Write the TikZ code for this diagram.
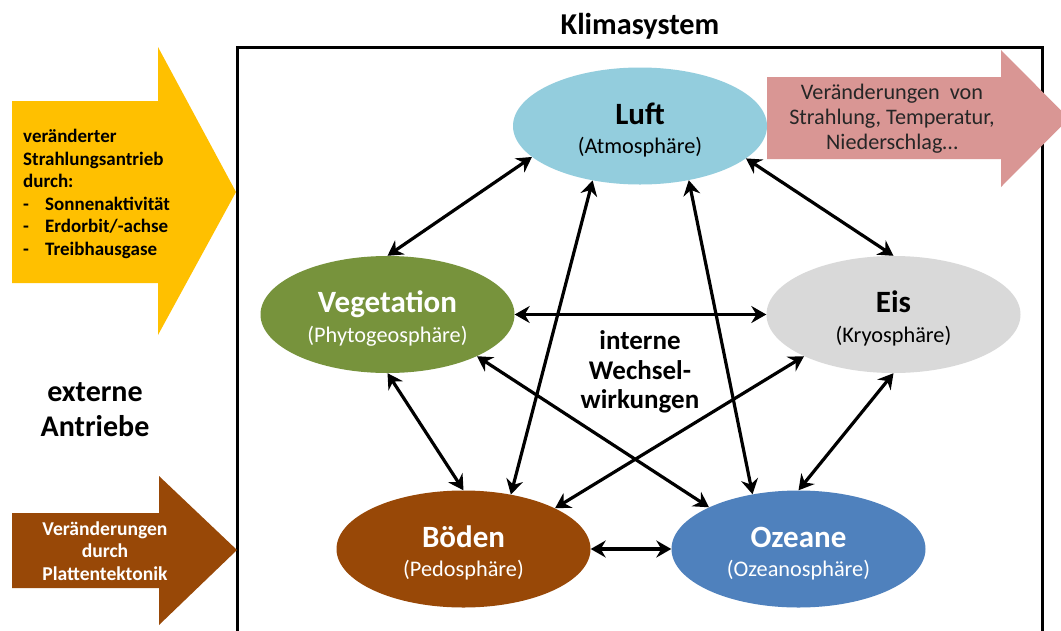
\documentclass[tikz,border=0pt]{standalone}
\usepackage{fontspec}
\setmainfont{Carlito}
\usetikzlibrary{arrows.meta,shapes.geometric}

\definecolor{luftblue}{HTML}{93CDDD}
\definecolor{vegegreen}{HTML}{77933C}
\definecolor{eisgray}{HTML}{D9D9D9}
\definecolor{bodenbrown}{HTML}{984807}
\definecolor{oceanblue}{HTML}{4F81BD}
\definecolor{solargold}{HTML}{FFC000}
\definecolor{outrose}{HTML}{D99694}

% sphere heading, with a strut so that every heading line has the same height
\newcommand\spheretitle[1]{{\fontsize{31}{29}\selectfont\bfseries\rule{0pt}{30pt}#1}}

\begin{document}
\begin{tikzpicture}[x=1pt,y=-1pt,
  sphere/.style={ellipse, minimum width=254pt, minimum height=117pt,
    inner sep=0pt, align=center, font=\fontsize{22.3}{29.5}\selectfont},
  link/.style={{Stealth[length=15pt,width=17pt,inset=5pt]}-{Stealth[length=15pt,width=17pt,inset=5pt]},
    line width=3.2pt},
]
\clip (0,0) rectangle (1061,630);
\fill[white] (0,0) rectangle (1061,630);

% climate system frame and title
\draw[line width=3pt] (237,47) rectangle (1042,660);
\node[anchor=base, font=\fontsize{30.3}{32}\selectfont\bfseries] (title) at (640,34) {Klimasystem};

% external forcing arrows
\fill[solargold] (12,101) -- (158,101) -- (158,47) -- (236,192) -- (158,335)
  -- (158,283) -- (12,283) -- cycle;
\node[anchor=west, align=left, inner sep=0pt,
  font=\fontsize{19}{22.6}\selectfont\bfseries] (solar) at (23,194)
  {veränderter\\Strahlungsantrieb\\durch:\\
   \makebox[22pt][l]{-}Sonnenaktivität\\
   \makebox[22pt][l]{-}Erdorbit/-achse\\
   \makebox[22pt][l]{-}Treibhausgase};

\fill[bodenbrown] (12,513) -- (159,513) -- (159,476) -- (237,550) -- (159,625)
  -- (159,588) -- (12,588) -- cycle;
\node[align=center, inner sep=0pt, text=white,
  font=\fontsize{19.6}{22.5}\selectfont\bfseries] (tekt) at (105,551)
  {Veränderungen\\durch\\Plattentektonik};

\node[align=center, inner sep=0pt,
  font=\fontsize{30}{35}\selectfont\bfseries] (extern) at (95,410)
  {externe\\Antriebe};

% outgoing response arrow
\fill[outrose] (767,77) -- (1001,77) -- (1001,50) -- (1069,118.5) -- (1001,187)
  -- (1001,159) -- (767,159) -- cycle;
\node[align=center, inner sep=0pt, text=black!85,
  font=\fontsize{22.2}{25}\selectfont] (resp) at (892,119)
  {Veränderungen\ \ von\\Strahlung, Temperatur,\\Niederschlag\dots};

% the five spheres
\node[sphere, fill=luftblue] (luft) at (640,126)
  {\spheretitle{Luft}\\(Atmosphäre)};
\node[sphere, fill=vegegreen, text=white] (veg) at (387.5,314.5)
  {\spheretitle{Vegetation}\\(Phytogeosphäre)};
\node[sphere, fill=eisgray] (eis) at (893.5,314.5)
  {\spheretitle{Eis}\\(Kryosphäre)};
\node[sphere, fill=bodenbrown, text=white] (boeden) at (463.5,549)
  {\spheretitle{Böden}\\(Pedosphäre)};
\node[sphere, fill=oceanblue, text=white] (ozeane) at (798.5,549)
  {\spheretitle{Ozeane}\\(Ozeanosphäre)};

\node[align=center, inner sep=0pt,
  font=\fontsize{27}{29.5}\selectfont\bfseries] (intern) at (640,372)
  {interne\\Wechsel-\\wirkungen};

% interactions
\draw[link] (luft.196.5) -- (veg.90);
\draw[link] (luft.343) -- (eis.90);
\draw[link] (veg.0) -- (eis.180);
\draw[link] (luft.229) -- (boeden.49);
\draw[link] (luft.312) -- (ozeane.130);
\draw[link] (veg.270) -- (boeden.90);
\draw[link] (veg.335) -- (ozeane.155);
\draw[link] (eis.205) -- (boeden.24);
\draw[link] (eis.270) -- (ozeane.90);
\draw[link] (boeden.0) -- (ozeane.180);
\end{tikzpicture}
\end{document}
